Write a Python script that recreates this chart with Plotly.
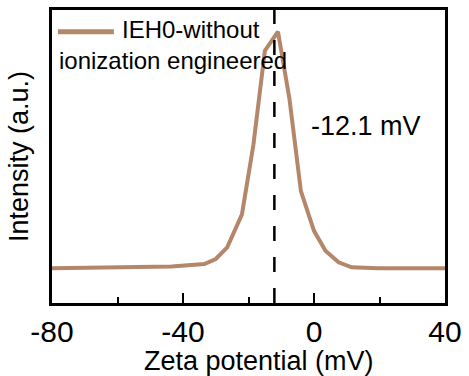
import plotly.graph_objects as go

# Data
zeta_mv = [-80, -48.5, -43.5, -33.5, -30, -26.5, -22, -18.5, -15, -11,
           -7.5, -4, 0, 3.5, 7.5, 11.5, 19.5, 40]
intensity = [0, 0.004, 0.007, 0.018, 0.039, 0.088, 0.228, 0.522, 0.92, 1.0,
             0.717, 0.326, 0.158, 0.074, 0.025, 0.004, 0, 0]
peak_mv = -12.1
series_name = "IEH0-without"
series_name2 = "ionization engineered"
peak_label = "-12.1 mV"
x_ticks = [-80, -40, 0, 40]
x_tick_labels = ["-80", "-40", "0", "40"]
x_title = "Zeta potential (mV)"
y_title = "Intensity (a.u.)"

LINE_COLOR = "#B4866A"
FONT = "Arial, Liberation Sans, sans-serif"

fig = go.Figure()
fig.add_trace(go.Scatter(x=zeta_mv, y=intensity, mode="lines",
                         line=dict(color=LINE_COLOR, width=4),
                         name=series_name, showlegend=False))

# dashed vertical line at peak
fig.add_shape(type="line", xref="x", yref="paper", x0=peak_mv, x1=peak_mv,
              y0=0, y1=1, line=dict(color="black", width=2.5, dash="15px,16px"))

# legend drawn manually (sample line + wrapped text)
fig.add_shape(type="line", xref="paper", yref="paper", x0=0.015, x1=0.1575,
              y0=0.9257, y1=0.9257, line=dict(color=LINE_COLOR, width=5))
fig.add_annotation(xref="paper", yref="paper", x=0.1725, y=0.932,
                   xanchor="left", yanchor="middle", showarrow=False,
                   text=series_name, font=dict(size=24, color="black", family=FONT))
fig.add_annotation(xref="paper", yref="paper", x=0.013, y=0.828,
                   xanchor="left", yanchor="middle", showarrow=False,
                   text=series_name2, font=dict(size=24, color="black", family=FONT))
fig.add_annotation(xref="paper", yref="paper", x=0.655, y=0.605,
                   xanchor="left", yanchor="middle", showarrow=False,
                   text=peak_label, font=dict(size=27, color="black", family=FONT))
# x-axis title (slightly right of centre, as in the reference)
fig.add_annotation(xref="paper", yref="paper", x=0.5275, y=-0.197,
                   xanchor="center", yanchor="middle", showarrow=False,
                   text=x_title, font=dict(size=27, color="black", family=FONT))

fig.update_xaxes(range=[-80, 40], tickvals=x_ticks, ticktext=x_tick_labels,
                 ticks="inside", ticklen=10, tickwidth=2, tickcolor="black",
                 minor=dict(dtick=20, tick0=0, ticks="inside", ticklen=6,
                            tickwidth=2, tickcolor="black"),
                 showline=True, linecolor="black", linewidth=2.5, mirror=True,
                 showgrid=False, zeroline=False,
                 tickfont=dict(size=30, color="black", family=FONT))
fig.update_yaxes(range=[-0.147, 1.092], showticklabels=False, ticks="",
                 showline=True, linecolor="black", linewidth=2.5, mirror=True,
                 showgrid=False, zeroline=False,
                 title=dict(text=y_title, standoff=13,
                            font=dict(size=27, color="black", family=FONT)))

fig.update_layout(width=469, height=376, plot_bgcolor="white", paper_bgcolor="white",
                  margin=dict(l=52, r=17, t=7, b=73), showlegend=False)

fig.write_html("out.html")
